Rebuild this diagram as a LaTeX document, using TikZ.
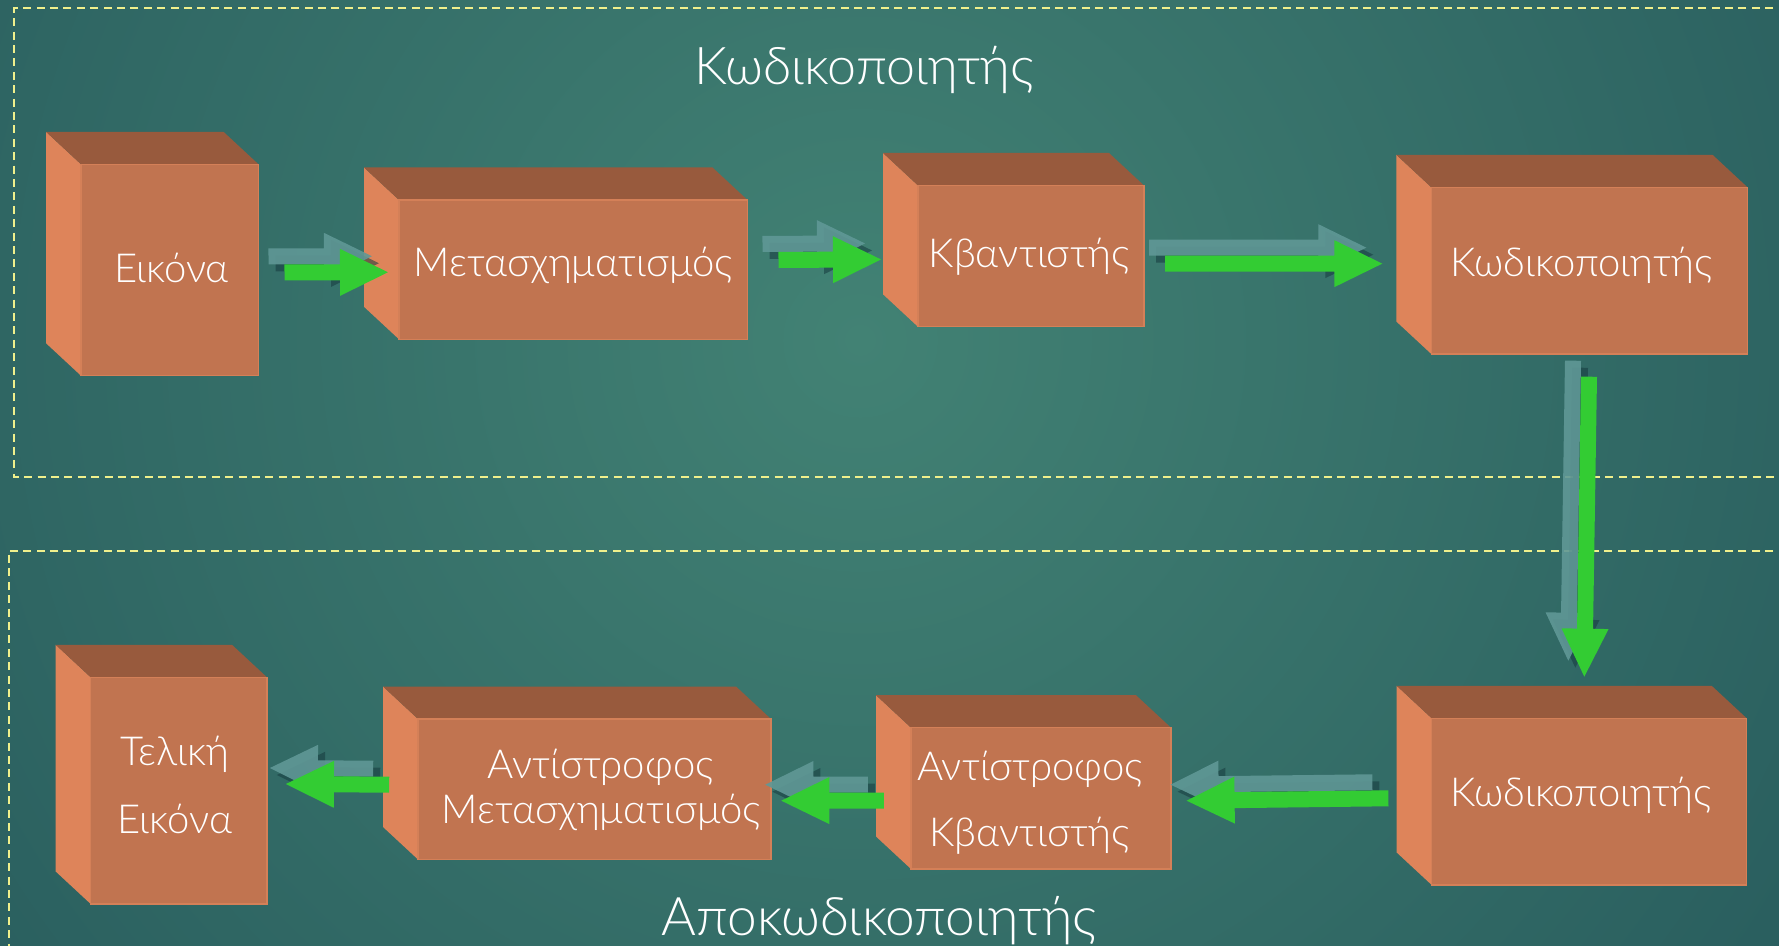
\documentclass[tikz,border=0pt]{standalone}
\usepackage{fontspec}
\setmainfont{Lato Light}
\usetikzlibrary{calc}

\definecolor{bgin}{RGB}{66,130,116}
\definecolor{bgout}{RGB}{25,70,80}
\definecolor{framecol}{RGB}{240,240,140}
\definecolor{frontcol}{RGB}{193,116,80}
\definecolor{sidecol}{RGB}{222,132,90}
\definecolor{topcol}{RGB}{152,90,61}
\definecolor{edgecol}{RGB}{212,128,88}
\definecolor{arrowgreen}{RGB}{51,204,51}
\definecolor{ghostcol}{RGB}{96,152,150}
\definecolor{shadowcol}{RGB}{22,58,62}

% one cube-like block: front face node plus side and top faces
\newcommand{\cubebox}[4]{%
  \node[frontface, minimum width=#3, minimum height=#4] (#1) at (#2) {};
  \fill[sideface] (#1.north west) -- ++(-35,-32.5) -- ($(#1.south west)+(-35,-32.5)$) -- (#1.south west) -- cycle;
  \fill[topface] (#1.north west) -- ++(-35,-32.5) -- ($(#1.north east)+(-35,-32.5)$) -- (#1.north east) -- cycle;
  \draw[frontedge] (#1.north west) rectangle (#1.south east);
}

% block arrow outline of the current length, along the local x axis
\newcommand{\arrowoutline}{(0pt,-4pt) -- ({\arrlen-24pt},-4pt) -- ({\arrlen-24pt},-11.75pt) -- (\arrlen,0pt) -- ({\arrlen-24pt},11.75pt) -- ({\arrlen-24pt},4pt) -- (0pt,4pt) -- cycle}

% green block arrow from #1 to #2 with its pale ghost copy and dark shadow
\newcommand{\flowarrow}[2]{%
  \path let \p1=($(#2)-(#1)$), \n1={atan2(\y1,\x1)}, \n2={veclen(\x1,\y1)} in
    \pgfextra{\xdef\arrang{\n1}\xdef\arrlen{\n2}};
  \begin{scope}[shift={(#1)}, xshift=-4.5pt, yshift=4.5pt, rotate=\arrang]
    \fill[arrowshadow] \arrowoutline;
  \end{scope}
  \begin{scope}[shift={(#1)}, xshift=-8pt, yshift=8pt, rotate=\arrang]
    \fill[arrowghost] \arrowoutline;
  \end{scope}
  \begin{scope}[shift={(#1)}, rotate=\arrang]
    \fill[arrowbody] \arrowoutline;
  \end{scope}
}

\begin{document}
\begin{tikzpicture}[x=0.5pt, y=-0.5pt,
  frontface/.style={fill=frontcol, inner sep=0pt, outer sep=0pt},
  sideface/.style={fill=sidecol},
  topface/.style={fill=topcol},
  frontedge/.style={draw=edgecol, line width=0.6pt},
  frame/.style={draw=framecol, line width=1pt, dash pattern=on 4pt off 2.7pt},
  boxtext/.style={text=white, anchor=base, inner sep=0pt, font=\fontsize{20}{24}\selectfont},
  title/.style={text=white, anchor=base, inner sep=0pt, font=\fontsize{26}{31}\selectfont},
  bigtitle/.style={text=white, anchor=base, inner sep=0pt, font=\fontsize{26.6}{32}\selectfont},
  arrowbody/.style={fill=arrowgreen},
  arrowghost/.style={fill=ghostcol, fill opacity=0.9},
  arrowshadow/.style={fill=shadowcol, fill opacity=0.55}]

\useasboundingbox (0,0) rectangle (1779,946);
\clip (0,0) rectangle (1779,946);

% background
\fill[bgout] (0,0) rectangle (1779,946);
\shade[inner color=bgin, outer color=bgout] (860,340) circle (1850);

% dashed group frames
\draw[frame] (1800,8.3) -- (14.3,8.3) -- (14.3,477.3) -- (1800,477.3);
\draw[frame] (1800,550.7) -- (8.7,550.7) -- (8.7,960);

% group titles
\node[title] (enc) at (864.2,85) {Κωδικοποιητής};
\node[bigtitle] (dec) at (879.2,935) {Αποκωδικοποιητής};

% encoder blocks
\cubebox{b1}{169.75,270}{88.75pt}{105.7pt}
\cubebox{b2}{573.25,269.65}{174.25pt}{69.65pt}
\cubebox{b3}{1031,256.15}{113pt}{70.65pt}
\cubebox{b4}{1589.4,270.65}{158.1pt}{83.35pt}
% decoder blocks
\cubebox{b5}{1589.2,801.65}{157.5pt}{83.35pt}
\cubebox{b6}{1041,798.35}{130pt}{70.65pt}
\cubebox{b7}{594.5,789.25}{176.5pt}{70.25pt}
\cubebox{b8}{178.85,790.65}{88.15pt}{113.35pt}

% block labels
\node[boxtext] (t1) at (171.6,282.7) {Εικόνα};
\node[boxtext] (t2) at (573.3,276.7) {Μετασχηματισμός};
\node[boxtext] (t3) at (1029,267.8) {Κβαντιστής};
\node[boxtext] (t4) at (1581.4,276.7) {Κωδικοποιητής};
\node[boxtext] (t5) at (1581,806) {Κωδικοποιητής};
\node[boxtext] (t6a) at (1030,780) {Αντίστροφος};
\node[boxtext] (t6b) at (1029.6,846.7) {Κβαντιστής};
\node[boxtext] (t7a) at (600.5,778.3) {Αντίστροφος};
\node[boxtext] (t7b) at (601.3,823.3) {Μετασχηματισμός};
\node[boxtext] (t8a) at (174.6,765.7) {Τελική};
\node[boxtext] (t8b) at (175,833.3) {Εικόνα};

% flow arrows
\flowarrow{$(b1.east)+(26,2.5)$}{$(b2.west)+(-11,2.6)$}
\flowarrow{$(b2.east)+(31,-9.7)$}{$(b3.west)+(-37,3.3)$}
\flowarrow{$(b3.east)+(21,7.6)$}{$(b4.west)+(-49,-7)$}
\flowarrow{$(b4.south)+(-0.4,22.7)$}{$(b5.north)+(-4.9,-41.6)$}
\flowarrow{$(b5.west)+(-43.3,-3.35)$}{$(b6.east)+(15.6,2.35)$}
\flowarrow{$(b6.west)+(-27.1,2.15)$}{$(b7.east)+(10.3,11.45)$}
\flowarrow{$(b7.west)+(-28.8,-4.55)$}{$(b8.east)+(18.9,-6.65)$}

\end{tikzpicture}
\end{document}
